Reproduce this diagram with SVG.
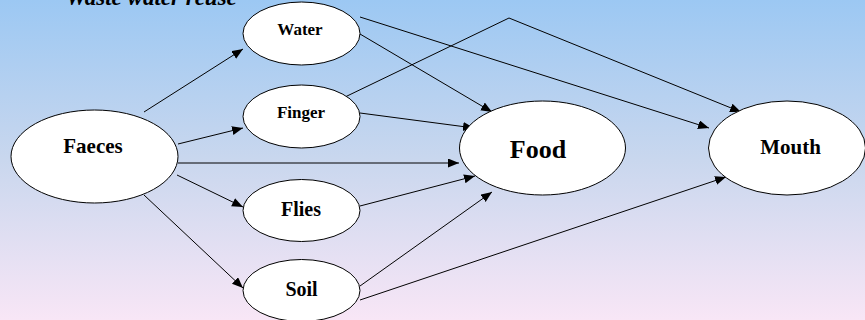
<svg xmlns="http://www.w3.org/2000/svg" width="865" height="320" viewBox="0 0 865 320">
<defs>
<linearGradient id="bg" x1="0" y1="0" x2="0" y2="1">
<stop offset="0" stop-color="#9CC8F3"/>
<stop offset="0.5" stop-color="#C9D7EE"/>
<stop offset="1" stop-color="#F8E6F6"/>
</linearGradient>
<marker id="arr" markerUnits="userSpaceOnUse" markerWidth="12" markerHeight="10" refX="11" refY="4.5" orient="auto">
<path d="M0,0 L11,4.5 L0,9 z" fill="#000"/>
</marker>
<style>
.node{fill:#fff;stroke:#000;stroke-width:1}
.lbl{font-family:"Liberation Serif","Times New Roman",serif;font-weight:bold;fill:#000;text-anchor:middle}
.edge{fill:none;stroke:#000;stroke-width:1}
.arrow{marker-end:url(#arr)}
</style>
</defs>
<rect x="0" y="0" width="865" height="320" fill="url(#bg)"/>
<text x="66" y="5" style="font-family:'Liberation Serif','Times New Roman',serif;font-weight:bold;font-style:italic;font-size:23px;fill:#000">Waste water reuse</text>
<g id="connectors">
<line class="edge arrow" x1="144" y1="112" x2="243" y2="49"/>
<line class="edge arrow" x1="178" y1="144" x2="243" y2="128"/>
<line class="edge arrow" x1="178" y1="163" x2="459" y2="163"/>
<line class="edge arrow" x1="177" y1="175" x2="243" y2="207"/>
<line class="edge arrow" x1="144" y1="195" x2="243" y2="288"/>
<line class="edge arrow" x1="360" y1="34" x2="492" y2="112"/>
<line class="edge arrow" x1="360" y1="17" x2="709" y2="128"/>
<line class="edge arrow" x1="360" y1="113" x2="474" y2="128"/>
<polyline class="edge arrow" points="345,97 509,18 741,112"/>
<line class="edge arrow" x1="360" y1="206" x2="475" y2="176"/>
<line class="edge arrow" x1="360" y1="286" x2="492" y2="192"/>
<line class="edge arrow" x1="360" y1="300" x2="726" y2="177"/>
</g>
<g id="faeces">
<ellipse class="node" cx="94.5" cy="156.5" rx="83.5" ry="46.5"/>
<text class="lbl" x="93" y="153" font-size="21">Faeces</text>
</g>
<g id="water">
<ellipse class="node" cx="301.5" cy="33.5" rx="58.5" ry="31.5"/>
<text class="lbl" x="300" y="35" font-size="17">Water</text>
</g>
<g id="finger">
<ellipse class="node" cx="301.5" cy="116.5" rx="58.5" ry="31.5"/>
<text class="lbl" x="301" y="118" font-size="17">Finger</text>
</g>
<g id="flies">
<ellipse class="node" cx="301.5" cy="210.5" rx="58.5" ry="31"/>
<text class="lbl" x="301" y="216" font-size="20">Flies</text>
</g>
<g id="soil">
<ellipse class="node" cx="301.5" cy="290.5" rx="58.5" ry="31"/>
<text class="lbl" x="301.5" y="296" font-size="20">Soil</text>
</g>
<g id="food">
<ellipse class="node" cx="542.5" cy="148" rx="83" ry="47"/>
<text class="lbl" x="538" y="158" font-size="26">Food</text>
</g>
<g id="mouth">
<ellipse class="node" cx="787" cy="148" rx="78.5" ry="47"/>
<text class="lbl" x="790.5" y="154" font-size="21">Mouth</text>
</g>
</svg>
